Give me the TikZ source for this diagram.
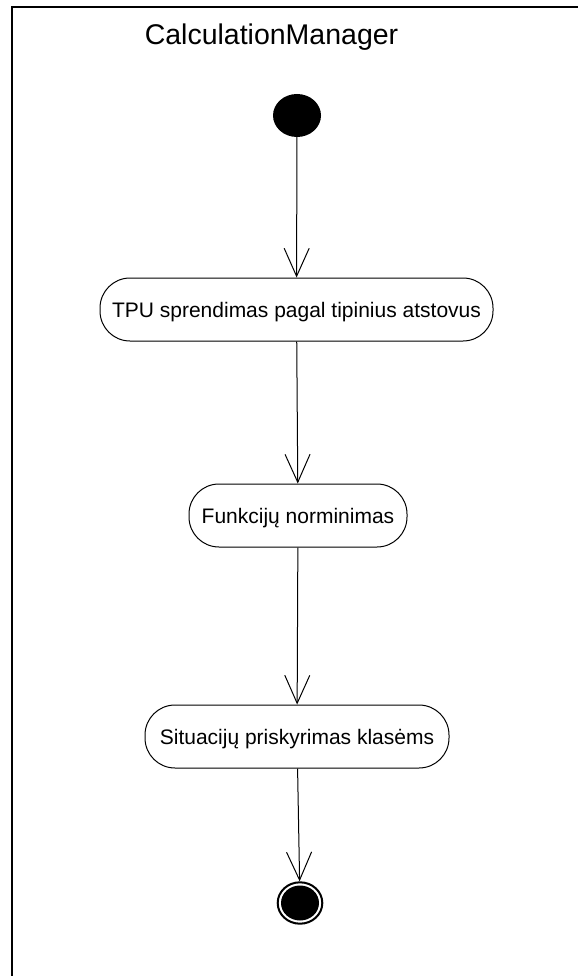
\documentclass[tikz,border=0pt]{standalone}
\usepackage{fontspec}
\setmainfont{Liberation Sans}
\usetikzlibrary{arrows.meta,shapes.geometric}

\tikzset{
  action/.style={draw, fill=white, line width=1pt, rounded corners=30pt,
    minimum height=63pt, inner sep=0pt, text height=15pt, text depth=0pt,
    font=\fontsize{21}{25}\selectfont},
  initial/.style={ellipse, fill=black, minimum width=48pt, minimum height=43pt, inner sep=0pt},
  final/.style={ellipse, draw, line width=2pt, minimum width=44.6pt, minimum height=41.4pt,
    inner sep=0pt,
    path picture={\fill (path picture bounding box.center) ellipse (19pt and 17.5pt);}},
  flow/.style={line width=1pt, -{Straight Barb[length=28pt,width=25pt]}},
  frame/.style={line width=2pt}
}

\begin{document}
\begin{tikzpicture}[x=1pt,y=-1pt]
  \useasboundingbox (0,0) rectangle (578,976);

  % swimlane border (continues past the page edges)
  \coordinate (fb) at (12,976);
  \coordinate (fc) at (12,7);
  \coordinate (fr) at (578,7);
  \draw[frame] (fb) -- (fc) -- (fr);

  % lane title
  \node[anchor=base, font=\fontsize{28.5}{33}\selectfont] (title) at (271.5,45) {CalculationManager};

  % activity nodes
  \node[initial] (start) at (297,115.5) {};
  \node[action, minimum width=393pt] (b1) at (296.5,309.5) {TPU sprendimas pagal tipinius atstovus};
  \node[action, minimum width=218pt] (b2) at (298,515.5) {Funkcijų norminimas};
  \node[action, minimum width=304pt] (b3) at (297,736.5) {Situacijų priskyrimas klasėms};
  \node[final] (end) at (300,903) {};

  % control flow
  \draw[flow] (start) -- (b1);
  \draw[flow] (b1) -- (b2);
  \draw[flow] (b2) -- (b3);
  \draw[flow] (b3) -- (end);
\end{tikzpicture}
\end{document}
